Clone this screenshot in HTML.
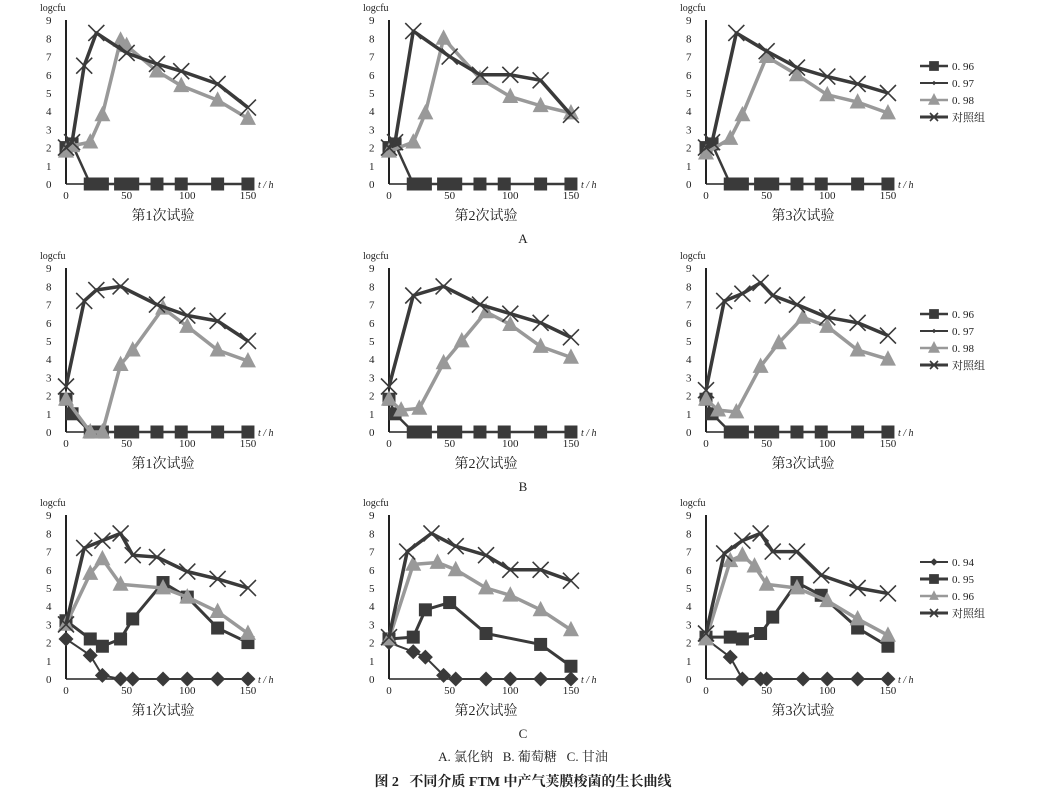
<!DOCTYPE html>
<html><head><meta charset="utf-8"><style>
body{margin:0;background:#fff;width:1046px;height:799px;overflow:hidden}
svg text{font-family:"Liberation Serif","Noto Serif CJK SC",serif;fill:#222;white-space:pre}
</style></head><body>
<svg id="s" width="1046" height="799" xmlns="http://www.w3.org/2000/svg"></svg>
<script>
const S=document.getElementById('s');let h='';
const D='#3a3a3a',G='#999';
const PX=[66,389,706],RY=[184,432,679];
function pts(x0,y0,d){return d.map(p=>[x0+p[0]*1.213,y0-p[1]*18.2]);}
function line(ps,c,w){return `<polyline points="${ps.map(p=>p.join(',')).join(' ')}" fill="none" stroke="${c}" stroke-width="${w}" stroke-linejoin="round"/>`;}
function mk(ps,t,c,sc){sc=sc||1;let o='';ps.forEach(([x,y])=>{
 if(t=='sq'){const r=6.5*sc;o+=`<rect x="${x-r}" y="${y-r}" width="${2*r}" height="${2*r}" fill="${c}"/>`;}
 else if(t=='tri'){const r=8*sc;o+=`<polygon points="${x},${y-r-1} ${x-r},${y+r*0.8} ${x+r},${y+r*0.8}" fill="${c}"/>`;}
 else if(t=='dia'){const r=7.5*sc;o+=`<polygon points="${x},${y-r} ${x+r},${y} ${x},${y+r} ${x-r},${y}" fill="${c}"/>`;}
 else if(t=='x'){const r=8*sc;o+=`<path d="M${x-r} ${y-r}L${x+r} ${y+r}M${x+r} ${y-r}L${x-r} ${y+r}" stroke="${c}" stroke-width="1.6"/>`;}
});return o;}
function ser(x0,y0,d,t,c,w){const p=pts(x0,y0,d);return line(p,c,w)+mk(p,t,c);}
function axes(x0,y0,n){let o=`<text x="${x0-26}" y="${y0-173}" font-size="10">logcfu</text>`;
 o+=`<line x1="${x0}" y1="${y0-164}" x2="${x0}" y2="${y0}" stroke="#222" stroke-width="2"/><line x1="${x0}" y1="${y0}" x2="${x0+186}" y2="${y0}" stroke="#222" stroke-width="1.5"/>`;
 for(let i=0;i<=9;i++)o+=`<text x="${x0-20}" y="${y0-i*18.2+4}" font-size="11">${i}</text>`;
 [0,50,100,150].forEach(v=>o+=`<text x="${x0+v*1.213}" y="${y0+15}" font-size="11" text-anchor="middle">${v}</text>`);
 o+=`<text x="${x0+192}" y="${y0+4}" font-size="10" font-style="italic">t / h</text>`;
 o+=`<text x="${x0+97}" y="${y0+36}" font-size="14" text-anchor="middle">第${n}次试验</text>`;return o;}
const Z0=[[20,0],[25,0],[30,0],[45,0],[50,0],[55,0],[75,0],[95,0],[125,0],[150,0]];
const A=[
 {c:[[0,2],[5,2.3],[15,6.5],[25,8.3],[50,7.2],[75,6.6],[95,6.2],[125,5.5],[150,4.2]],g:[[0,1.8],[5,2.1],[20,2.3],[30,3.8],[45,7.9],[50,7.6],[75,6.2],[95,5.4],[125,4.6],[150,3.6]]},
 {c:[[0,2],[5,2.3],[20,8.4],[50,7],[75,6],[100,6],[125,5.7],[150,3.8]],g:[[0,1.8],[20,2.3],[30,3.9],[45,8],[75,5.8],[100,4.8],[125,4.3],[150,3.9]]},
 {c:[[0,2],[5,2.3],[25,8.3],[50,7.3],[75,6.4],[100,5.9],[125,5.5],[150,5]],g:[[0,1.7],[20,2.5],[30,3.8],[50,7],[75,6],[100,4.9],[125,4.5],[150,3.9]]}];
const B=[
 {c:[[0,2.5],[15,7.2],[25,7.8],[45,8],[75,7],[100,6.4],[125,6.1],[150,5]],g:[[0,1.8],[20,0],[30,0],[45,3.7],[55,4.5],[80,6.8],[100,5.8],[125,4.5],[150,3.9]]},
 {c:[[0,2.5],[20,7.5],[45,8],[75,7],[100,6.5],[125,6],[150,5.2]],g:[[0,1.8],[10,1.2],[25,1.3],[45,3.8],[60,5],[80,6.6],[100,5.9],[125,4.7],[150,4.1]]},
 {c:[[0,2.3],[15,7.2],[30,7.6],[45,8.2],[55,7.5],[75,7],[100,6.3],[125,6],[150,5.3]],g:[[0,1.8],[10,1.2],[25,1.1],[45,3.6],[60,4.9],[80,6.3],[100,5.8],[125,4.5],[150,4]]}];
const C=[
 {d:[[0,2.2],[20,1.3],[30,0.2],[45,0],[55,0],[80,0],[100,0],[125,0],[150,0]],s:[[0,3.2],[20,2.2],[30,1.8],[45,2.2],[55,3.3],[80,5.3],[100,4.5],[125,2.8],[150,2]],g:[[0,3],[20,5.8],[30,6.6],[45,5.2],[80,5],[100,4.5],[125,3.7],[150,2.5]],c:[[0,3],[15,7.2],[30,7.6],[45,8],[55,6.8],[75,6.7],[100,5.9],[125,5.5],[150,5]]},
 {d:[[0,2],[20,1.5],[30,1.2],[45,0.2],[55,0],[80,0],[100,0],[125,0],[150,0]],s:[[0,2.2],[20,2.3],[30,3.8],[50,4.2],[80,2.5],[125,1.9],[150,0.7]],g:[[0,2.2],[20,6.3],[40,6.4],[55,6],[80,5],[100,4.6],[125,3.8],[150,2.7]],c:[[0,2.3],[15,7],[35,8],[55,7.3],[80,6.8],[100,6],[125,6],[150,5.4]]},
 {d:[[0,2.2],[20,1.2],[30,0],[45,0],[50,0],[80,0],[100,0],[125,0],[150,0]],s:[[0,2.3],[20,2.3],[30,2.2],[45,2.5],[55,3.4],[75,5.3],[95,4.6],[125,2.8],[150,1.8]],g:[[0,2.2],[20,6.5],[30,6.8],[40,6.2],[50,5.2],[75,5],[100,4.3],[125,3.3],[150,2.4]],c:[[0,2.5],[15,6.9],[30,7.6],[45,8],[55,7],[75,7],[95,5.7],[125,5],[150,4.7]]}];
for(let i=0;i<3;i++){
 let x=PX[i],y=RY[0];h+=axes(x,y,i+1);
 h+=ser(x,y,[[0,2],[5,2.2]].concat(Z0),'sq',D,2.5)+ser(x,y,A[i].g,'tri',G,3.5)+ser(x,y,A[i].c,'x',D,3.5);
 y=RY[1];h+=axes(x,y,i+1);
 h+=ser(x,y,[[0,1.8],[5,1]].concat(Z0),'sq',D,2.5)+ser(x,y,B[i].g,'tri',G,3.5)+ser(x,y,B[i].c,'x',D,3.5);
 y=RY[2];h+=axes(x,y,i+1);
 h+=ser(x,y,C[i].d,'dia',D,2)+ser(x,y,C[i].s,'sq',D,3)+ser(x,y,C[i].g,'tri',G,3.5)+ser(x,y,C[i].c,'x',D,3.5);
}
function leg(y,items){let o='';items.forEach((it,k)=>{const yy=y+k*17;
 o+=`<line x1="920" y1="${yy}" x2="948" y2="${yy}" stroke="${it[1]}" stroke-width="${it[3]}"/>`+mk([[934,yy]],it[2],it[1],it[4]||0.75);
 o+=`<text x="952" y="${yy+4}" font-size="11">${it[0]}</text>`;});return o;}
h+=leg(66,[['0. 96',D,'sq',2.5],['0. 97',D,'dia',2,0.3],['0. 98',G,'tri',2.5],['对照组',D,'x',3,0.5]]);
h+=leg(314,[['0. 96',D,'sq',2.5],['0. 97',D,'dia',2,0.3],['0. 98',G,'tri',2.5],['对照组',D,'x',3,0.5]]);
h+=leg(562,[['0. 94',D,'dia',2,0.5],['0. 95',D,'sq',3],['0. 96',G,'tri',2.5,0.6],['对照组',D,'x',3,0.5]]);
h+=`<text x="523" y="243" font-size="13" text-anchor="middle">A</text>`;
h+=`<text x="523" y="491" font-size="13" text-anchor="middle">B</text>`;
h+=`<text x="523" y="738" font-size="13" text-anchor="middle">C</text>`;
h+=`<text x="523" y="761" font-size="13" text-anchor="middle">A. 氯化钠   B. 葡萄糖   C. 甘油</text>`;
h+=`<text x="523" y="786" font-size="14" font-weight="bold" text-anchor="middle">图 2   不同介质 FTM 中产气荚膜梭菌的生长曲线</text>`;
S.innerHTML=h;
</script>
</body></html>
